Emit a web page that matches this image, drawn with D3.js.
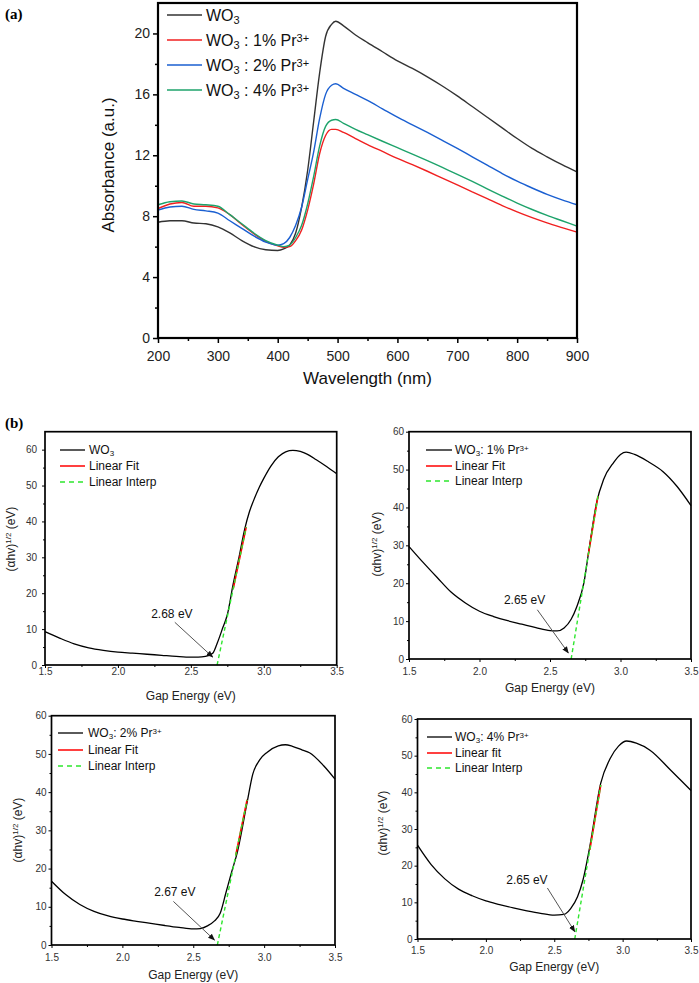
<!DOCTYPE html>
<html><head><meta charset="utf-8">
<script src="https://cdn.jsdelivr.net/npm/d3@7"></script>
<style>body{margin:0;background:#fff}svg{display:block}text{font-family:Arial,'Liberation Sans',sans-serif}</style>
</head><body>
<script>
// ---------- Panel (a) data ----------
const wavelength = [200,220,240,260,280,300,320,340,360,380,400,410,420,430,440,450,460,470,480,490,497,510,530,550,575,600,625,650,675,700,725,750,775,800,825,850,875,900];
const absWO3 = [7.6,7.7,7.7,7.55,7.5,7.3,6.9,6.4,6.0,5.8,5.75,5.85,6.1,6.9,8.6,11.0,14.2,17.4,19.8,20.6,20.8,20.5,19.9,19.4,18.8,18.2,17.7,17.15,16.55,15.9,15.2,14.5,13.8,13.1,12.45,11.9,11.38,10.9];
const absPr1 = [8.5,8.8,8.9,8.65,8.65,8.55,8.1,7.45,6.85,6.35,6.05,5.95,6.0,6.4,7.1,8.4,10.1,12.1,13.3,13.7,13.7,13.5,13.1,12.7,12.25,11.8,11.38,10.95,10.5,10.05,9.6,9.15,8.7,8.28,7.9,7.56,7.25,6.95];
const absPr2 = [8.4,8.6,8.65,8.45,8.35,8.2,7.7,7.2,6.7,6.3,6.1,6.2,6.6,7.4,8.6,10.4,12.2,14.4,16.0,16.6,16.7,16.4,16.0,15.6,15.05,14.5,14.0,13.5,12.98,12.45,11.9,11.35,10.8,10.3,9.85,9.43,9.07,8.75];
const absPr4 = [8.75,8.95,9.0,8.8,8.75,8.65,8.1,7.5,6.9,6.4,6.1,6.0,6.1,6.6,7.4,8.8,10.6,12.6,13.9,14.3,14.35,14.1,13.7,13.35,12.92,12.5,12.08,11.65,11.2,10.75,10.28,9.8,9.32,8.86,8.44,8.05,7.7,7.35];
const seriesNamesA = ["WO3","WO3 : 1% Pr3+","WO3 : 2% Pr3+","WO3 : 4% Pr3+"];
const seriesColorsA = ["#333333","#f02020","#1a5fd1","#1ea36b"];
const xTicksA = [200,300,400,500,600,700,800,900];
const yTicksA = [0,4,8,12,16,20];

// ---------- Panel (b) data ----------
const eWO3 = [1.5,1.6,1.7,1.8,1.9,2.0,2.1,2.2,2.3,2.4,2.5,2.55,2.6,2.65,2.68,2.72,2.75,2.79,2.83,2.87,2.9,2.93,2.97,3.0,3.05,3.1,3.15,3.2,3.25,3.3,3.36,3.42,3.5];
const tWO3 = [9.3,7.5,5.9,4.8,4.1,3.6,3.3,3.0,2.7,2.4,2.2,2.2,2.4,3.3,6.0,10.5,14,22.5,30,38,42.5,45.8,49.6,52,55.5,58,59.4,59.8,59.5,58.7,57.2,55.6,53.3];
const ePr1 = [1.5,1.6,1.7,1.8,1.9,2.0,2.1,2.2,2.3,2.4,2.5,2.55,2.6,2.65,2.69,2.74,2.78,2.83,2.88,2.95,3.0,3.04,3.1,3.2,3.3,3.4,3.5];
const tPr1 = [29.7,25.5,21.5,17.6,14.8,12.6,11.2,10.1,9.2,8.3,7.5,7.4,8.2,10.5,13.8,20,29.7,41.2,47.4,51.8,54,54.6,54,52,49.5,45.6,40.5];
const ePr2 = [1.5,1.6,1.7,1.8,1.9,2.0,2.1,2.2,2.3,2.4,2.5,2.55,2.6,2.65,2.69,2.73,2.77,2.81,2.88,2.92,2.97,3.02,3.1,3.15,3.2,3.27,3.32,3.42,3.5];
const tPr2 = [16.7,13.2,10.6,8.8,7.6,6.8,6.2,5.65,5.1,4.6,4.2,4.3,5.0,6.3,8.3,13.6,19,24.1,37.3,44.7,48.5,50.4,52.1,52.4,52,51,50.3,46.9,43.4];
const ePr4 = [1.5,1.6,1.7,1.8,1.9,2.0,2.1,2.2,2.3,2.4,2.5,2.57,2.62,2.67,2.71,2.76,2.84,2.91,2.97,3.03,3.1,3.2,3.35,3.42,3.5];
const tPr4 = [25.6,20.3,16.4,13.6,11.8,10.4,9.4,8.5,7.7,7.0,6.5,6.7,8.3,11.5,16.1,25.2,42.5,49.3,52.6,54,53.4,51.5,46.1,43.5,40.5];
const gapValues = [2.68,2.65,2.67,2.65];
const fitStartE = [2.79,2.77,2.80,2.76];
const fitEnd = [[2.88,38.5],[2.84,43],[2.88,38],[2.84,42]];
const sampleNamesB = ["WO3","WO3: 1% Pr3+","WO3: 2% Pr3+","WO3: 4% Pr3+"];
const fitLabelsB = ["Linear Fit","Linear Fit","Linear Fit","Linear fit"];
const yMaxB = [65,60,60,60];
const xTicksB = [1.5,2.0,2.5,3.0,3.5];
const yTicksB = [0,10,20,30,40,50,60];
// annotation: [textE, textV, arrowStartE, arrowStartV, arrowEndE, arrowEndV]
const annotB = [[2.37,14.4,2.39,11.9,2.65,2.2],[2.32,15.6,2.41,13,2.63,1.6],[2.37,14.0,2.36,11.4,2.65,1.3],[2.30,16.1,2.45,13.9,2.65,2.0]];

// ---------- Drawing ----------
const svg = d3.select("body").append("svg").attr("width",699).attr("height",983);

function richLabel(sel, s, small) {
  const m = s.match(/^WO3(.*?)(Pr3\+)?$/);
  sel.append("tspan").text("WO");
  sel.append("tspan").text("3").attr("font-size", small).attr("baseline-shift","-28%");
  if (m && m[1]) sel.append("tspan").text(m[1]);
  if (m && m[2]) {
    sel.append("tspan").text("Pr");
    sel.append("tspan").text("3+").attr("font-size", small).attr("baseline-shift","40%");
  }
}

svg.append("text").attr("x",5).attr("y",19).attr("font-weight","bold").attr("font-size",15).text("(a)").style("font-family","'Liberation Serif',serif");
svg.append("text").attr("x",5).attr("y",428).attr("font-weight","bold").attr("font-size",15).text("(b)").style("font-family","'Liberation Serif',serif");

// Panel (a)
(function(){
  const L=158,R=577,T=3,B=338;
  const x = d3.scaleLinear().domain([200,900]).range([L,R]);
  const y = d3.scaleLinear().domain([0,22]).range([B,T]);
  const g = svg.append("g");
  const series = [absWO3,absPr1,absPr2,absPr4];
  const line = d3.line().x((d,i)=>x(wavelength[i])).y(d=>y(d)).curve(d3.curveMonotoneX);
  series.forEach((s,k)=>{
    g.append("path").attr("d",line(s)).attr("fill","none").attr("stroke",seriesColorsA[k]).attr("stroke-width",1.4);
  });
  const xMinor = d3.range(250,900,100);
  const yMinor = d3.range(2,22,4);
  g.append("g").attr("transform",`translate(0,${B})`).call(d3.axisBottom(x).tickValues(xMinor).tickSize(3).tickFormat(""))
    .call(a=>a.select(".domain").remove()).selectAll("line").attr("stroke-width",1.5);
  g.append("g").attr("transform",`translate(${L},0)`).call(d3.axisLeft(y).tickValues(yMinor).tickSize(3).tickFormat(""))
    .call(a=>a.select(".domain").remove()).selectAll("line").attr("stroke-width",1.5);
  const xa = g.append("g").attr("transform",`translate(0,${B})`).call(d3.axisBottom(x).tickValues(xTicksA).tickSize(5).tickPadding(8).tickSizeOuter(0));
  const ya = g.append("g").attr("transform",`translate(${L},0)`).call(d3.axisLeft(y).tickValues(yTicksA).tickSize(5).tickPadding(3).tickSizeOuter(0));
  [xa,ya].forEach(a=>{a.select(".domain").remove(); a.selectAll("line").attr("stroke-width",1.5);
    a.selectAll("text").attr("font-size",14).attr("fill","#222").style("font-family","Arial,'Liberation Sans',sans-serif");});
  g.append("rect").attr("x",L).attr("y",T).attr("width",R-L).attr("height",B-T).attr("fill","none").attr("stroke","#000").attr("stroke-width",2.2);
  g.append("text").attr("x",(L+R)/2).attr("y",384).attr("text-anchor","middle").attr("font-size",17).attr("fill","#111").text("Wavelength (nm)");
  g.append("text").attr("transform",`translate(108,165) rotate(-90)`).attr("dy","0.35em").attr("text-anchor","middle").attr("font-size",17).attr("fill","#111").text("Absorbance (a.u.)");
  const rows=[15,40,65,90];
  seriesNamesA.forEach((n,k)=>{
    g.append("line").attr("x1",167).attr("x2",202).attr("y1",rows[k]).attr("y2",rows[k]).attr("stroke",seriesColorsA[k]).attr("stroke-width",1.6);
    const t = g.append("text").attr("x",206).attr("y",rows[k]+6).attr("font-size",16).attr("fill","#111");
    richLabel(t,n,11);
  });
})();

// Panel (b)
const layoutB = [
  {L:45,R:336.7,T:431.7,B:665,xLab:6,xTitle:700,yTitleX:11,yTitleY:539,legX:[60,85,89],legY:[450,466,482]},
  {L:409,R:691,T:431.7,B:659,xLab:12,xTitle:692,yTitleX:377,yTitleY:544,legX:[426,452,455],legY:[450,466,481]},
  {L:51.5,R:335,T:715.7,B:945,xLab:12,xTitle:979,yTitleX:18,yTitleY:830,legX:[58,83,88],legY:[733,750,766]},
  {L:417.5,R:691,T:719,B:939,xLab:11,xTitle:971,yTitleX:383,yTitleY:823,legX:[427,452,455],legY:[737,753,768]}
];
const dataB = [[eWO3,tWO3],[ePr1,tPr1],[ePr2,tPr2],[ePr4,tPr4]];

const defs = svg.append("defs");
defs.append("marker").attr("id","arr").attr("viewBox","0 0 10 10").attr("refX",9).attr("refY",5)
  .attr("markerWidth",7).attr("markerHeight",7).attr("orient","auto-start-reverse").attr("markerUnits","userSpaceOnUse")
  .append("path").attr("d","M0,1 L10,5 L0,9 Z").attr("fill","#111");

layoutB.forEach((lay,k)=>{
  const x = d3.scaleLinear().domain([1.5,3.5]).range([lay.L,lay.R]);
  const y = d3.scaleLinear().domain([0,yMaxB[k]]).range([lay.B,lay.T]);
  const g = svg.append("g");
  const [es,ts] = dataB[k];
  const line = d3.line().x((d,i)=>x(es[i])).y(d=>y(d)).curve(d3.curveMonotoneX);
  g.append("path").attr("d",line(ts)).attr("fill","none").attr("stroke","#000").attr("stroke-width",1.3);
  const e0 = gapValues[k], [e1,v1] = fitEnd[k];
  const slope = v1/(e1-e0);
  const fs = fitStartE[k];
  g.append("line").attr("x1",x(fs)).attr("y1",y(slope*(fs-e0))).attr("x2",x(e1)).attr("y2",y(v1))
    .attr("stroke","#ff0000").attr("stroke-width",1.6);
  g.append("line").attr("x1",x(e0)).attr("y1",y(0)).attr("x2",x(e1)).attr("y2",y(v1))
    .attr("stroke","#2ee62e").attr("stroke-width",1.4).attr("stroke-dasharray","4,3");
  const xMinor = [1.75,2.25,2.75,3.25];
  const yMinor = d3.range(5,yMaxB[k],10);
  g.append("g").attr("transform",`translate(0,${lay.B})`).call(d3.axisBottom(x).tickValues(xMinor).tickSize(2).tickFormat(""))
    .call(a=>a.select(".domain").remove());
  g.append("g").attr("transform",`translate(${lay.L},0)`).call(d3.axisLeft(y).tickValues(yMinor).tickSize(2).tickFormat(""))
    .call(a=>a.select(".domain").remove());
  const xa = g.append("g").attr("transform",`translate(0,${lay.B})`).call(d3.axisBottom(x).tickValues(xTicksB).tickFormat(d3.format(".1f")).tickSize(3).tickPadding(lay.xLab-3.6-3).tickSizeOuter(0));
  const ya = g.append("g").attr("transform",`translate(${lay.L},0)`).call(d3.axisLeft(y).tickValues(yTicksB).tickSize(3).tickPadding(k===0?5:2).tickSizeOuter(0));
  [xa,ya].forEach(a=>{a.select(".domain").remove();
    a.selectAll("text").attr("font-size",10).attr("fill","#333").style("font-family","Arial,'Liberation Sans',sans-serif");});
  g.append("rect").attr("x",lay.L).attr("y",lay.T).attr("width",lay.R-lay.L).attr("height",lay.B-lay.T)
    .attr("fill","none").attr("stroke","#000").attr("stroke-width",1.7);
  g.append("text").attr("x",(lay.L+lay.R)/2).attr("y",lay.xTitle).attr("text-anchor","middle").attr("font-size",12).attr("fill","#222").text("Gap Energy (eV)");
  const yt = g.append("text").attr("transform",`translate(${lay.yTitleX},${lay.yTitleY}) rotate(-90)`).attr("dy","0.35em")
    .attr("text-anchor","middle").attr("font-size",12).attr("fill","#222");
  yt.append("tspan").text("(\u03B1hv)");
  yt.append("tspan").text("1/2").attr("font-size",8).attr("baseline-shift","45%");
  yt.append("tspan").text(" (eV)");
  const [lx1,lx2,tx] = lay.legX, ly = lay.legY;
  g.append("line").attr("x1",lx1).attr("x2",lx2).attr("y1",ly[0]).attr("y2",ly[0]).attr("stroke","#000").attr("stroke-width",1.3);
  g.append("line").attr("x1",lx1).attr("x2",lx2).attr("y1",ly[1]).attr("y2",ly[1]).attr("stroke","#ff0000").attr("stroke-width",1.5);
  g.append("line").attr("x1",lx1).attr("x2",lx2).attr("y1",ly[2]).attr("y2",ly[2]).attr("stroke","#2ee62e").attr("stroke-width",1.4).attr("stroke-dasharray","5,4");
  const t0 = g.append("text").attr("x",tx).attr("y",ly[0]+4.3).attr("font-size",12).attr("fill","#111");
  richLabel(t0,sampleNamesB[k],8);
  g.append("text").attr("x",tx).attr("y",ly[1]+4.3).attr("font-size",12).attr("fill","#111").text(fitLabelsB[k]);
  g.append("text").attr("x",tx).attr("y",ly[2]+4.3).attr("font-size",12).attr("fill","#111").text("Linear Interp");
  const an = annotB[k];
  g.append("text").attr("x",x(an[0])).attr("y",y(an[1])).attr("dy","0.35em").attr("text-anchor","middle").attr("font-size",12).attr("fill","#111")
    .text(gapValues[k].toFixed(2)+" eV");
  g.append("line").attr("x1",x(an[2])).attr("y1",y(an[3])).attr("x2",x(an[4])).attr("y2",y(an[5]))
    .attr("stroke","#555").attr("stroke-width",1).attr("marker-end","url(#arr)");
});
</script>
</body></html>
